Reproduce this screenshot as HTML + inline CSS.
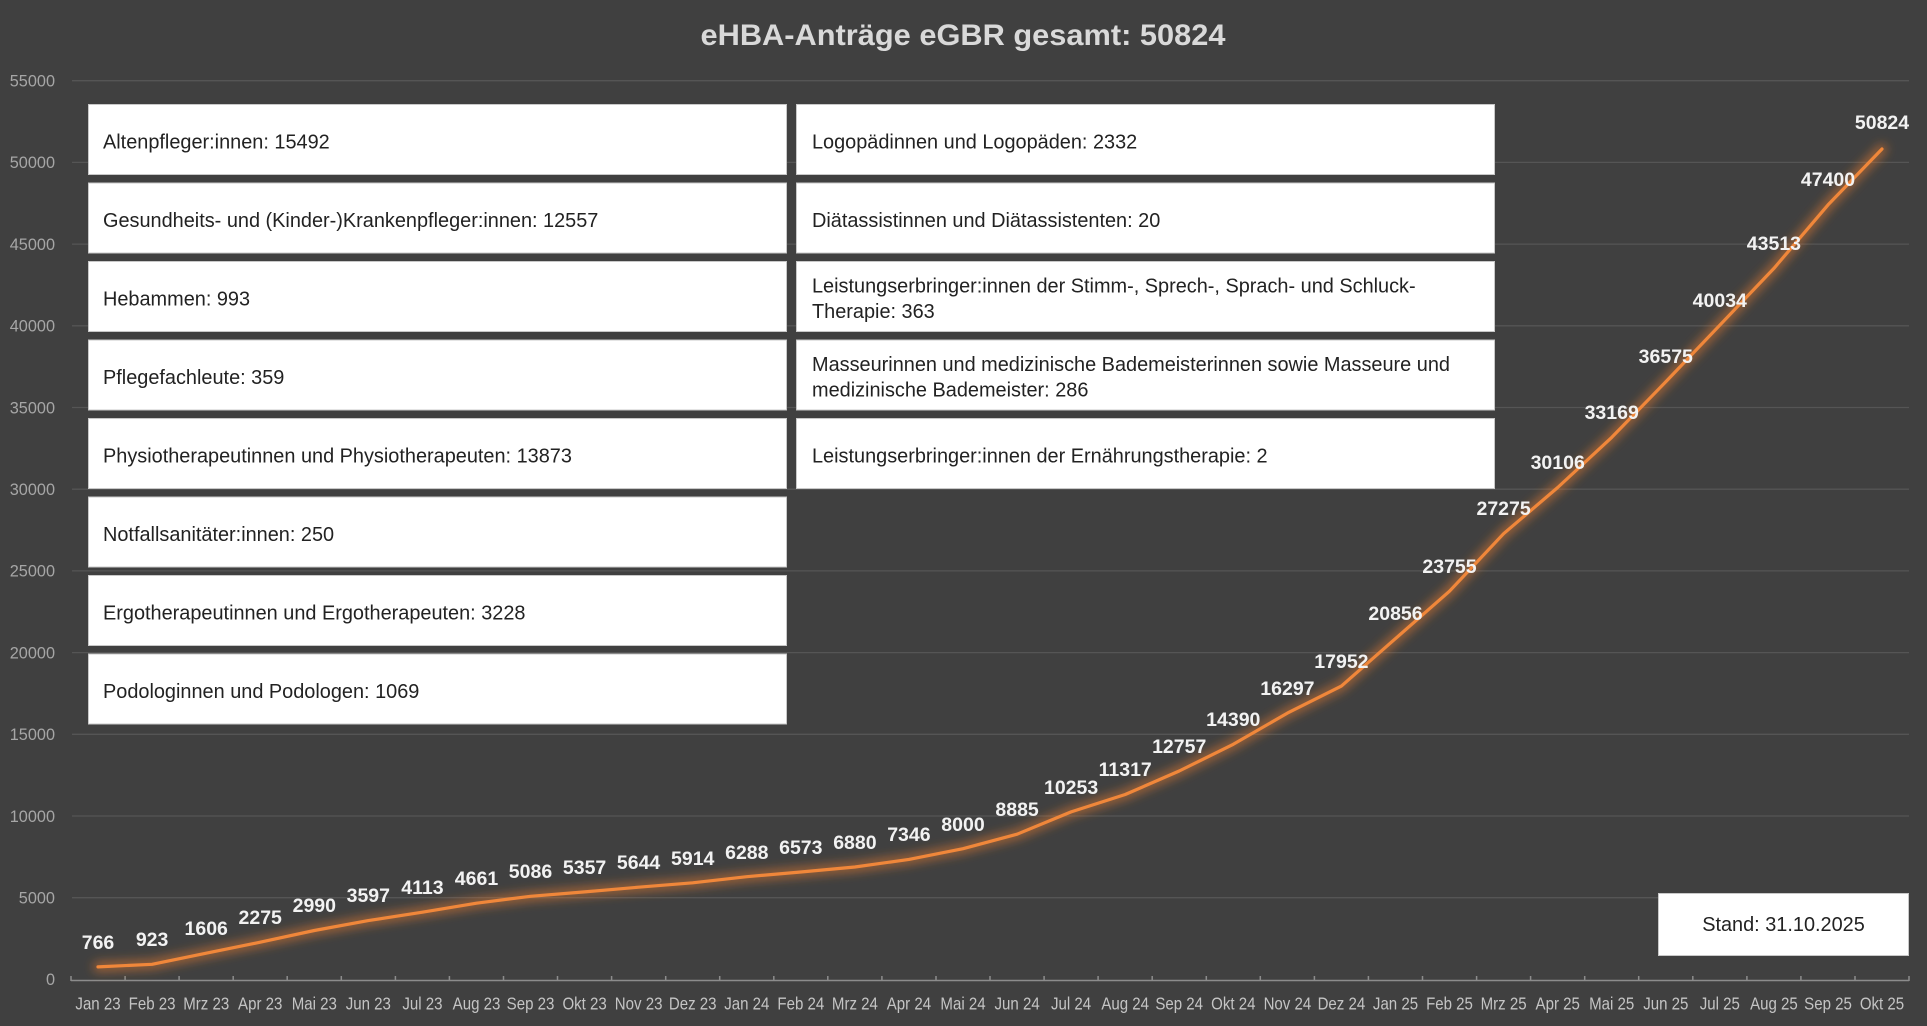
<!DOCTYPE html>
<html><head><meta charset="utf-8"><style>
html,body{margin:0;padding:0;background:#404040;}
svg{display:block;}
</style></head><body>
<svg width="1927" height="1026" viewBox="0 0 1927 1026" xmlns="http://www.w3.org/2000/svg">
<defs>
<filter id="glow" x="-10%" y="-10%" width="120%" height="120%"><feGaussianBlur stdDeviation="5"/></filter>
</defs>
<rect x="0" y="0" width="1927" height="1026" fill="#404040"/>
<text x="963" y="45" text-anchor="middle" font-family="Liberation Sans, sans-serif" font-weight="bold" font-size="29.5" fill="#d9d9d9" textLength="525" lengthAdjust="spacingAndGlyphs">eHBA-Anträge eGBR gesamt: 50824</text>
<g stroke="#555555" stroke-width="1.3">
<line x1="72" y1="80.7" x2="1909" y2="80.7"/>
<line x1="72" y1="162.4" x2="1909" y2="162.4"/>
<line x1="72" y1="244.1" x2="1909" y2="244.1"/>
<line x1="72" y1="325.8" x2="1909" y2="325.8"/>
<line x1="72" y1="407.5" x2="1909" y2="407.5"/>
<line x1="72" y1="489.2" x2="1909" y2="489.2"/>
<line x1="72" y1="570.9" x2="1909" y2="570.9"/>
<line x1="72" y1="652.6" x2="1909" y2="652.6"/>
<line x1="72" y1="734.3" x2="1909" y2="734.3"/>
<line x1="72" y1="816.0" x2="1909" y2="816.0"/>
<line x1="72" y1="897.7" x2="1909" y2="897.7"/>
</g>
<g font-family="Liberation Sans, sans-serif" font-size="16.3" fill="#a6a6a6" text-anchor="end">
<text x="55" y="86.5">55000</text>
<text x="55" y="168.2">50000</text>
<text x="55" y="249.9">45000</text>
<text x="55" y="331.6">40000</text>
<text x="55" y="413.3">35000</text>
<text x="55" y="495">30000</text>
<text x="55" y="576.7">25000</text>
<text x="55" y="658.4">20000</text>
<text x="55" y="740.1">15000</text>
<text x="55" y="821.8">10000</text>
<text x="55" y="903.5">5000</text>
<text x="55" y="985.2">0</text>
</g>
<line x1="71" y1="980.5" x2="1909" y2="980.5" stroke="#8c8c8c" stroke-width="1.5"/>
<g stroke="#8c8c8c" stroke-width="1.5">
<line x1="71.0" y1="976" x2="71.0" y2="981"/><line x1="125.1" y1="976" x2="125.1" y2="981"/><line x1="179.1" y1="976" x2="179.1" y2="981"/><line x1="233.2" y1="976" x2="233.2" y2="981"/><line x1="287.2" y1="976" x2="287.2" y2="981"/><line x1="341.3" y1="976" x2="341.3" y2="981"/><line x1="395.4" y1="976" x2="395.4" y2="981"/><line x1="449.4" y1="976" x2="449.4" y2="981"/><line x1="503.5" y1="976" x2="503.5" y2="981"/><line x1="557.5" y1="976" x2="557.5" y2="981"/><line x1="611.6" y1="976" x2="611.6" y2="981"/><line x1="665.7" y1="976" x2="665.7" y2="981"/><line x1="719.7" y1="976" x2="719.7" y2="981"/><line x1="773.8" y1="976" x2="773.8" y2="981"/><line x1="827.8" y1="976" x2="827.8" y2="981"/><line x1="881.9" y1="976" x2="881.9" y2="981"/><line x1="936.0" y1="976" x2="936.0" y2="981"/><line x1="990.0" y1="976" x2="990.0" y2="981"/><line x1="1044.1" y1="976" x2="1044.1" y2="981"/><line x1="1098.1" y1="976" x2="1098.1" y2="981"/><line x1="1152.2" y1="976" x2="1152.2" y2="981"/><line x1="1206.3" y1="976" x2="1206.3" y2="981"/><line x1="1260.3" y1="976" x2="1260.3" y2="981"/><line x1="1314.4" y1="976" x2="1314.4" y2="981"/><line x1="1368.4" y1="976" x2="1368.4" y2="981"/><line x1="1422.5" y1="976" x2="1422.5" y2="981"/><line x1="1476.6" y1="976" x2="1476.6" y2="981"/><line x1="1530.6" y1="976" x2="1530.6" y2="981"/><line x1="1584.7" y1="976" x2="1584.7" y2="981"/><line x1="1638.7" y1="976" x2="1638.7" y2="981"/><line x1="1692.8" y1="976" x2="1692.8" y2="981"/><line x1="1746.9" y1="976" x2="1746.9" y2="981"/><line x1="1800.9" y1="976" x2="1800.9" y2="981"/><line x1="1855.0" y1="976" x2="1855.0" y2="981"/><line x1="1909.0" y1="976" x2="1909.0" y2="981"/>
</g>
<g font-family="Liberation Sans, sans-serif" font-size="17.5" fill="#c4c4c4" text-anchor="middle">
<text transform="translate(98.0,1009.5) scale(0.86,1)">Jan 23</text><text transform="translate(152.1,1009.5) scale(0.86,1)">Feb 23</text><text transform="translate(206.2,1009.5) scale(0.86,1)">Mrz 23</text><text transform="translate(260.2,1009.5) scale(0.86,1)">Apr 23</text><text transform="translate(314.3,1009.5) scale(0.86,1)">Mai 23</text><text transform="translate(368.3,1009.5) scale(0.86,1)">Jun 23</text><text transform="translate(422.4,1009.5) scale(0.86,1)">Jul 23</text><text transform="translate(476.5,1009.5) scale(0.86,1)">Aug 23</text><text transform="translate(530.5,1009.5) scale(0.86,1)">Sep 23</text><text transform="translate(584.6,1009.5) scale(0.86,1)">Okt 23</text><text transform="translate(638.6,1009.5) scale(0.86,1)">Nov 23</text><text transform="translate(692.7,1009.5) scale(0.86,1)">Dez 23</text>
<text transform="translate(746.8,1009.5) scale(0.86,1)">Jan 24</text><text transform="translate(800.8,1009.5) scale(0.86,1)">Feb 24</text><text transform="translate(854.9,1009.5) scale(0.86,1)">Mrz 24</text><text transform="translate(908.9,1009.5) scale(0.86,1)">Apr 24</text><text transform="translate(963.0,1009.5) scale(0.86,1)">Mai 24</text><text transform="translate(1017.1,1009.5) scale(0.86,1)">Jun 24</text><text transform="translate(1071.1,1009.5) scale(0.86,1)">Jul 24</text><text transform="translate(1125.2,1009.5) scale(0.86,1)">Aug 24</text><text transform="translate(1179.2,1009.5) scale(0.86,1)">Sep 24</text><text transform="translate(1233.3,1009.5) scale(0.86,1)">Okt 24</text><text transform="translate(1287.4,1009.5) scale(0.86,1)">Nov 24</text><text transform="translate(1341.4,1009.5) scale(0.86,1)">Dez 24</text>
<text transform="translate(1395.5,1009.5) scale(0.86,1)">Jan 25</text><text transform="translate(1449.5,1009.5) scale(0.86,1)">Feb 25</text><text transform="translate(1503.6,1009.5) scale(0.86,1)">Mrz 25</text><text transform="translate(1557.7,1009.5) scale(0.86,1)">Apr 25</text><text transform="translate(1611.7,1009.5) scale(0.86,1)">Mai 25</text><text transform="translate(1665.8,1009.5) scale(0.86,1)">Jun 25</text><text transform="translate(1719.8,1009.5) scale(0.86,1)">Jul 25</text><text transform="translate(1773.9,1009.5) scale(0.86,1)">Aug 25</text><text transform="translate(1828.0,1009.5) scale(0.86,1)">Sep 25</text><text transform="translate(1882.0,1009.5) scale(0.86,1)">Okt 25</text>
</g>
<polyline filter="url(#glow)" fill="none" stroke="#ed7d31" stroke-opacity="0.55" stroke-width="10" stroke-linejoin="round" stroke-linecap="round" points="98.0,966.9 152.1,964.3 206.2,953.2 260.2,942.2 314.3,930.5 368.3,920.6 422.4,912.2 476.5,903.2 530.5,896.3 584.6,891.9 638.6,887.2 692.7,882.8 746.8,876.7 800.8,872.0 854.9,867.0 908.9,859.4 963.0,848.7 1017.1,834.2 1071.1,811.9 1125.2,794.5 1179.2,771.0 1233.3,744.3 1287.4,713.1 1341.4,686.1 1395.5,638.6 1449.5,591.2 1503.6,533.7 1557.7,487.5 1611.7,437.4 1665.8,381.8 1719.8,325.2 1773.9,268.4 1828.0,204.9 1882.0,149.0"/>
<polyline fill="none" stroke="#f0873a" stroke-width="3.2" stroke-linejoin="round" stroke-linecap="round" points="98.0,966.9 152.1,964.3 206.2,953.2 260.2,942.2 314.3,930.5 368.3,920.6 422.4,912.2 476.5,903.2 530.5,896.3 584.6,891.9 638.6,887.2 692.7,882.8 746.8,876.7 800.8,872.0 854.9,867.0 908.9,859.4 963.0,848.7 1017.1,834.2 1071.1,811.9 1125.2,794.5 1179.2,771.0 1233.3,744.3 1287.4,713.1 1341.4,686.1 1395.5,638.6 1449.5,591.2 1503.6,533.7 1557.7,487.5 1611.7,437.4 1665.8,381.8 1719.8,325.2 1773.9,268.4 1828.0,204.9 1882.0,149.0"/>
<g font-family="Liberation Sans, sans-serif" font-weight="bold" font-size="19.5" fill="#f2f2f2" text-anchor="middle">
<text x="98.0" y="949">766</text><text x="152.1" y="946">923</text><text x="206.2" y="935">1606</text><text x="260.2" y="924">2275</text><text x="314.3" y="912">2990</text><text x="368.3" y="902">3597</text><text x="422.4" y="894">4113</text><text x="476.5" y="885">4661</text><text x="530.5" y="878">5086</text><text x="584.6" y="874">5357</text><text x="638.6" y="869">5644</text><text x="692.7" y="865">5914</text><text x="746.8" y="859">6288</text><text x="800.8" y="854">6573</text><text x="854.9" y="849">6880</text><text x="908.9" y="841">7346</text><text x="963.0" y="831">8000</text><text x="1017.1" y="816">8885</text><text x="1071.1" y="794">10253</text><text x="1125.2" y="776">11317</text><text x="1179.2" y="753">12757</text><text x="1233.3" y="726">14390</text><text x="1287.4" y="695">16297</text><text x="1341.4" y="668">17952</text><text x="1395.5" y="620">20856</text><text x="1449.5" y="573">23755</text><text x="1503.6" y="515">27275</text><text x="1557.7" y="469">30106</text><text x="1611.7" y="419">33169</text><text x="1665.8" y="363">36575</text><text x="1719.8" y="307">40034</text><text x="1773.9" y="250">43513</text><text x="1828.0" y="186">47400</text><text x="1882.0" y="129">50824</text>
</g>
<g fill="#ffffff" stroke="#c8c8c8" stroke-width="1">
<rect x="88.5" y="104.5" width="698" height="70"/>
<rect x="88.5" y="183" width="698" height="70"/>
<rect x="88.5" y="261.5" width="698" height="70"/>
<rect x="88.5" y="340" width="698" height="70"/>
<rect x="88.5" y="418.5" width="698" height="70"/>
<rect x="88.5" y="497" width="698" height="70"/>
<rect x="88.5" y="575.5" width="698" height="70"/>
<rect x="88.5" y="654" width="698" height="70"/>
<rect x="796.5" y="104.5" width="698" height="70"/>
<rect x="796.5" y="183" width="698" height="70"/>
<rect x="796.5" y="261.5" width="698" height="70"/>
<rect x="796.5" y="340" width="698" height="70"/>
<rect x="796.5" y="418.5" width="698" height="70"/>
<rect x="1658.5" y="893.5" width="250" height="62"/>
</g>
<g font-family="Liberation Sans, sans-serif" font-size="19.9" fill="#222222">
<text x="103" y="148.5">Altenpfleger:innen: 15492</text>
<text x="103" y="227">Gesundheits- und (Kinder-)Krankenpfleger:innen: 12557</text>
<text x="103" y="305.5">Hebammen: 993</text>
<text x="103" y="384">Pflegefachleute: 359</text>
<text x="103" y="462.5">Physiotherapeutinnen und Physiotherapeuten: 13873</text>
<text x="103" y="541">Notfallsanitäter:innen: 250</text>
<text x="103" y="619.5">Ergotherapeutinnen und Ergotherapeuten: 3228</text>
<text x="103" y="698">Podologinnen und Podologen: 1069</text>
<text x="812" y="148.5">Logopädinnen und Logopäden: 2332</text>
<text x="812" y="227">Diätassistinnen und Diätassistenten: 20</text>
<text x="812" y="292.5">Leistungserbringer:innen der Stimm-, Sprech-, Sprach- und Schluck-</text>
<text x="812" y="318">Therapie: 363</text>
<text x="812" y="371">Masseurinnen und medizinische Bademeisterinnen sowie Masseure und</text>
<text x="812" y="396.5">medizinische Bademeister: 286</text>
<text x="812" y="462.5">Leistungserbringer:innen der Ernährungstherapie: 2</text>
<text x="1783.5" y="931" text-anchor="middle">Stand: 31.10.2025</text>
</g>
</svg>
</body></html>
